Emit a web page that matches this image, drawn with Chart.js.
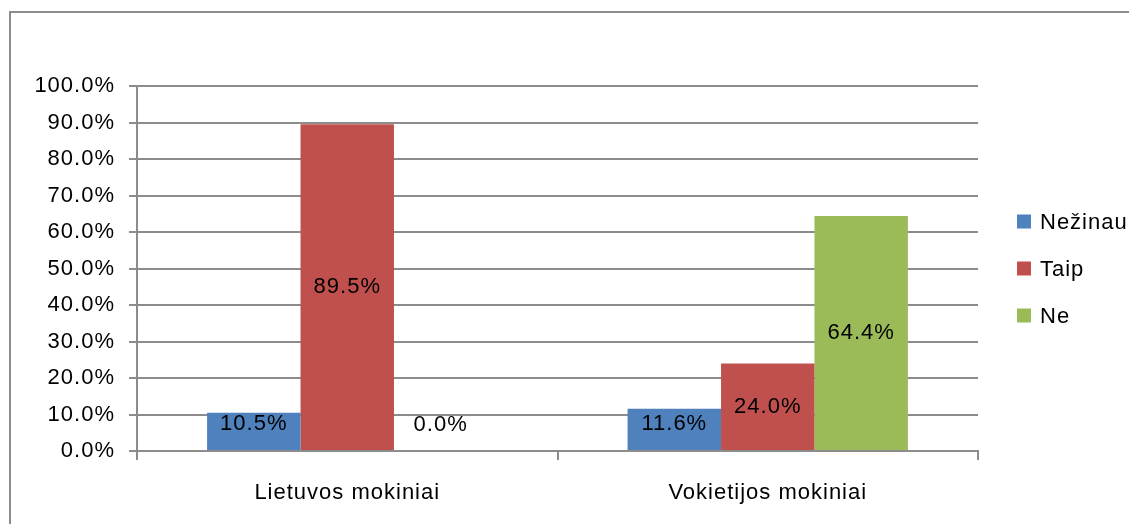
<!DOCTYPE html>
<html>
<head>
<meta charset="utf-8">
<script src="https://cdn.jsdelivr.net/npm/chart.js@4"></script>
<style>
  html, body { margin: 0; padding: 0; background: #fff; }
  #wrap { width: 1129px; height: 524px; position: relative; }
</style>
</head>
<body>
<div id="wrap"><canvas id="c" width="1129" height="524"></canvas></div>
<script>
const categories = ['Lietuvos mokiniai', 'Vokietijos mokiniai'];
const seriesNames = ['Nežinau', 'Taip', 'Ne'];
const nezinau = [0.105, 0.116];
const taip = [0.895, 0.240];
const ne = [0.0, 0.644];
const yTicks = [0, 0.1, 0.2, 0.3, 0.4, 0.5, 0.6, 0.7, 0.8, 0.9, 1.0];
const colors = ['#4F81BD', '#C0504D', '#9BBB59'];

const FONT = "'Liberation Sans', Arial, sans-serif";
const GRAY = '#8c8c8c';
const fmt = v => (v * 100).toFixed(1) + '%';

const spacingPlugin = {
  id: 'spacing',
  beforeLayout(chart) { chart.ctx.letterSpacing = '1px'; },
  beforeDraw(chart) { chart.ctx.letterSpacing = '1px'; }
};

const framePlugin = {
  id: 'frame',
  beforeDraw(chart) {
    const ctx = chart.ctx;
    ctx.save();
    ctx.fillStyle = '#fff';
    ctx.fillRect(0, 0, chart.width, chart.height);
    ctx.strokeStyle = GRAY;
    ctx.lineWidth = 2;
    ctx.strokeRect(10, 12, 1400, 800);
    ctx.restore();
  }
};

const labelPlugin = {
  id: 'dataLabels',
  afterDatasetsDraw(chart) {
    const ctx = chart.ctx;
    ctx.save();
    ctx.letterSpacing = '1px';
    ctx.font = '22px ' + FONT;
    ctx.fillStyle = '#000';
    ctx.textAlign = 'center';
    ctx.textBaseline = 'middle';
    chart.data.datasets.forEach((ds, di) => {
      const meta = chart.getDatasetMeta(di);
      meta.data.forEach((el, i) => {
        const v = ds.data[i];
        const y = Math.min((el.y + el.base) / 2, el.base - 26);
        ctx.fillText(fmt(v), el.x, y);
      });
    });
    ctx.restore();
  }
};

const legendPlugin = {
  id: 'sideLegend',
  afterDraw(chart) {
    const ctx = chart.ctx;
    const area = chart.chartArea;
    const n = chart.data.datasets.length;
    const cy = (area.top + area.bottom) / 2;
    ctx.save();
    ctx.letterSpacing = '1px';
    ctx.font = '22px ' + FONT;
    ctx.fillStyle = '#000';
    ctx.textAlign = 'left';
    ctx.textBaseline = 'middle';
    chart.data.datasets.forEach((ds, i) => {
      const y = cy + (i - (n - 1) / 2) * 47;
      const bx = area.right + 39;
      ctx.fillStyle = ds.backgroundColor;
      ctx.fillRect(bx, y - 7, 14, 14);
      ctx.fillStyle = '#000';
      ctx.fillText(ds.label, bx + 23, y + 1);
    });
    ctx.restore();
  }
};

new Chart(document.getElementById('c'), {
  type: 'bar',
  data: {
    labels: categories,
    datasets: [
      { label: seriesNames[0], data: nezinau, backgroundColor: colors[0] },
      { label: seriesNames[1], data: taip, backgroundColor: colors[1] },
      { label: seriesNames[2], data: ne, backgroundColor: colors[2] }
    ]
  },
  options: {
    responsive: false,
    devicePixelRatio: 1,
    animation: false,
    layout: { padding: { top: 86, right: 151, bottom: 0, left: 0 } },
    datasets: { bar: { categoryPercentage: 2 / 3, barPercentage: 1, borderWidth: 0 } },
    plugins: { legend: { display: false }, tooltip: { enabled: false } },
    scales: {
      x: {
        offset: true,
        grid: { offset: true, drawOnChartArea: false, drawTicks: true, tickLength: 9, color: GRAY, lineWidth: 2 },
        border: { display: true, color: GRAY, width: 2 },
        ticks: { color: '#000', font: { family: FONT, size: 22 }, padding: 20, maxRotation: 0 },
        afterFit(scale) { scale.height = 73; }
      },
      y: {
        min: 0, max: 1,
        afterBuildTicks(scale) { scale.ticks = yTicks.map(v => ({ value: v })); },
        grid: { color: GRAY, lineWidth: 2, tickLength: 8, drawTicks: true },
        border: { display: true, color: GRAY, width: 2 },
        ticks: { color: '#000', font: { family: FONT, size: 22 }, padding: 14, callback: v => fmt(v) },
        afterFit(scale) { scale.width = 137; }
      }
    }
  },
  plugins: [spacingPlugin, framePlugin, labelPlugin, legendPlugin]
});
</script>
</body>
</html>
